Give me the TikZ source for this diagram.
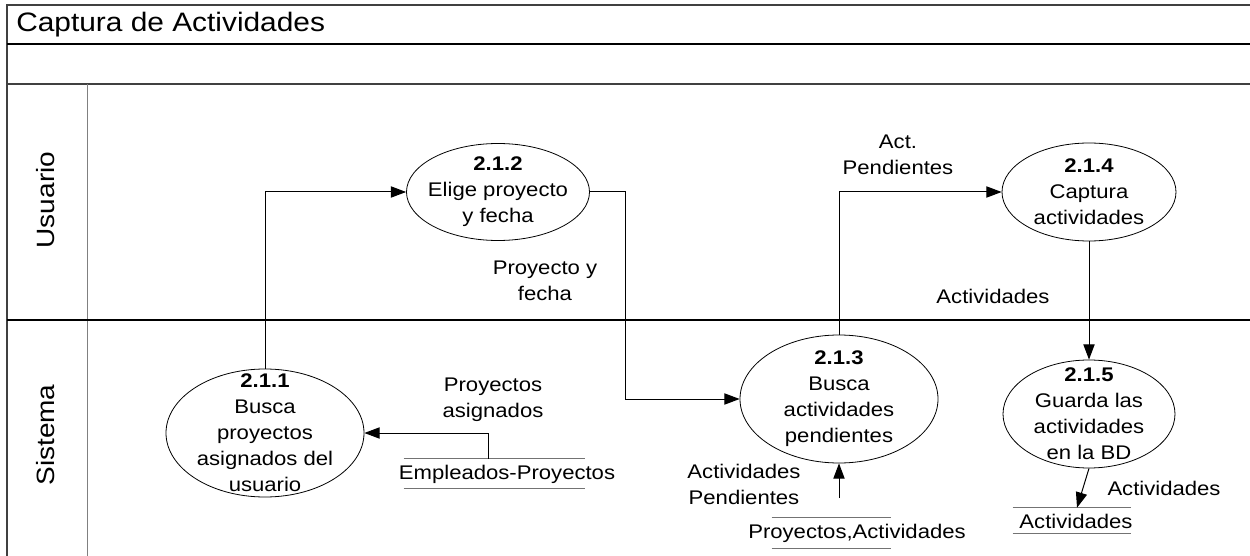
\documentclass[tikz,border=0pt]{standalone}
\usepackage{fontspec}
\setmainfont{Liberation Sans}[FakeStretch=1.12]
\usetikzlibrary{arrows.meta,shapes.geometric}

\begin{document}
\begin{tikzpicture}[x=0.75pt, y=-0.75pt,
    proc/.style={ellipse, draw, line width=0.6pt, inner sep=0pt},
    proctxt/.style={align=center, inner sep=0pt, font=\fontsize{14.8pt}{19.5pt}\selectfont},
    flowlbl/.style={align=center, inner sep=0pt, font=\fontsize{14.8pt}{19.5pt}\selectfont},
    store/.style={rectangle, inner sep=0pt},
    storeline/.style={black!55, line width=0.9pt},
    flow/.style={-{Triangle[length=11.5pt, width=8.5pt]}, line width=0.75pt},
    lanelbl/.style={rotate=90, inner sep=0pt, font=\fontsize{18.75pt}{22pt}\selectfont}]
    \useasboundingbox (0,0) rectangle (1250,556);

    % Frame and lanes
    \draw[black!75, line width=1.5pt] (1250,5) -- (7,5) -- (7,556);
    \draw[line width=1.1pt] (7,44) -- (1250,44);
    \draw[black!75, line width=1.5pt] (7,84) -- (1250,84);
    \draw[black!50, line width=0.75pt] (87,84) -- (87,556);
    \draw[line width=1.1pt] (7,320) -- (1250,320);
    \node[anchor=west, inner sep=0pt, font=\fontsize{20pt}{24pt}\selectfont] (title) at (16,25) {Captura de Actividades};
    \node[lanelbl] (lnusr) at (46,200) {Usuario};
    \node[lanelbl] (lnsis) at (46,435) {Sistema};

    % Processes
    \node[proc, minimum width=148.5pt, minimum height=96pt] (p211) at (265,433) {};
    \node[proc, minimum width=137.25pt, minimum height=72.75pt] (p212) at (498,192) {};
    \node[proc, minimum width=148.5pt, minimum height=96pt] (p213) at (839,399) {};
    \node[proc, minimum width=130.5pt, minimum height=73.5pt] (p214) at (1089,192) {};
    \node[proc, minimum width=129pt, minimum height=81pt] (p215) at (1089,414) {};
    \node[proctxt] (t211) at (p211) {\textbf{2.1.1}\\Busca\\proyectos\\asignados del\\usuario};
    \node[proctxt] (t212) at (p212) {\textbf{2.1.2}\\Elige proyecto\\y fecha};
    \node[proctxt] (t213) at (p213) {\textbf{2.1.3}\\Busca\\actividades\\pendientes};
    \node[proctxt] (t214) at (p214) {\textbf{2.1.4}\\Captura\\actividades};
    \node[proctxt] (t215) at (p215) {\textbf{2.1.5}\\Guarda las\\actividades\\en la BD};

    % Data stores
    \node[store, minimum width=135.75pt, minimum height=21.75pt] (dsemp) at (494.5,473.5) {};
    \node[store, minimum width=89.25pt, minimum height=22.5pt] (dsproy) at (831.5,533) {};
    \node[store, minimum width=88.5pt, minimum height=18.75pt] (dsact) at (1072,520.5) {};
    \foreach \s in {dsemp, dsproy, dsact} {
        \draw[storeline] (\s.north west) -- (\s.north east) (\s.south west) -- (\s.south east);
    }
    \node[proctxt] (tdsemp) at (507,474) {Empleados-Proyectos};
    \node[proctxt] (tdsproy) at (857,533) {Proyectos,Actividades};
    \node[proctxt] (tdsact) at (1076,521) {Actividades};

    % Flows
    \coordinate (b212) at (625,192);
    \coordinate (in213) at (839,498);
    \draw[flow] (p211.north) |- (p212.west);
    \draw[flow] (p212.east) -- (b212) |- (p213.west);
    \draw[flow] (p213.north) |- (p214.west);
    \draw[flow] (p214.south) -- (p215.north);
    \draw[flow] (p215.south) -- ([xshift=3.75pt]dsact.north);
    \draw[flow] ([xshift=-4.5pt]dsemp.north) |- (p211.east);
    \draw[flow] (in213) -- (p213.south);
    \node[flowlbl] (lpf) at (545,281) {Proyecto y\\fecha};
    \node[flowlbl] (lap) at (898,155) {Act.\\Pendientes};
    \node[flowlbl] (lact1) at (993,296) {Actividades};
    \node[flowlbl] (lpa) at (493,400) {Proyectos\\asignados};
    \node[flowlbl] (lactp) at (744,484) {Actividades\\Pendientes};
    \node[flowlbl] (lact2) at (1164,488) {Actividades};
\end{tikzpicture}
\end{document}
